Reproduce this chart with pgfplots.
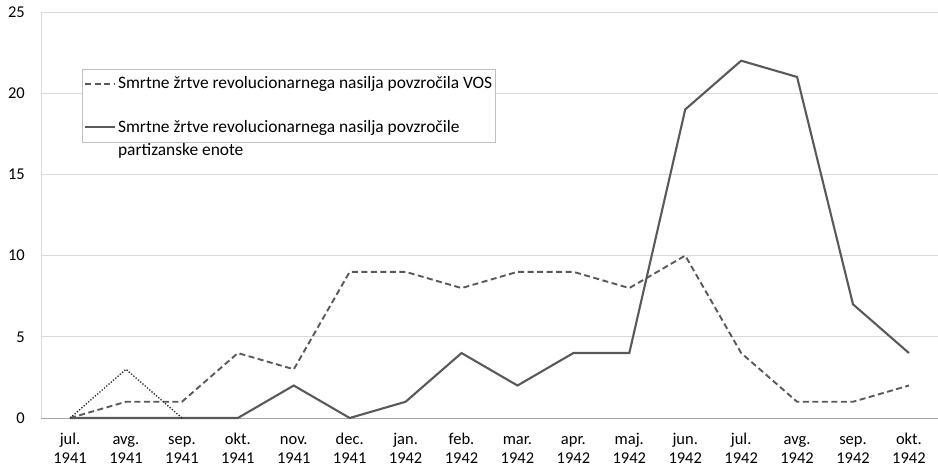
\documentclass[border=0pt]{standalone}
\usepackage{pgfplots}
\pgfplotsset{compat=1.18}
\usepackage{fontspec}
\setmainfont{Carlito}
\definecolor{ln}{HTML}{595959}
\definecolor{grd}{HTML}{D9D9D9}
\definecolor{axl}{HTML}{A6A6A6}
\definecolor{lgb}{HTML}{BFBFBF}
\newcommand{\tl}[2]{\strut #1\\\strut #2}
\begin{document}
\fontsize{15bp}{18bp}\selectfont
\begin{tikzpicture}
\begin{axis}[
  at={(0,0)}, anchor=south west,
  width=897bp, height=406bp, scale only axis,
  xmin=-0.52, xmax=15.52, ymin=0, ymax=25,
  ytick={0,5,...,25},
  xtick={0,...,15},
  xticklabels={{\tl{jul.}{1941}},{\tl{avg.}{1941}},{\tl{sep.}{1941}},{\tl{okt.}{1941}},{\tl{nov.}{1941}},{\tl{dec.}{1941}},{\tl{jan.}{1942}},{\tl{feb.}{1942}},{\tl{mar.}{1942}},{\tl{apr.}{1942}},{\tl{maj.}{1942}},{\tl{jun.}{1942}},{\tl{jul.}{1942}},{\tl{avg.}{1942}},{\tl{sep.}{1942}},{\tl{okt.}{1942}}},
  xticklabel style={align=center, yshift=-7.5bp, font=\fontsize{16.5bp}{19.5bp}\selectfont},
  yticklabel style={xshift=-11bp, font=\fontsize{16.5bp}{19.5bp}\selectfont},
  /pgf/number format/assume math mode=true,
  tick style={draw=none},
  ymajorgrids, grid style={grd, line width=0.8bp},
  axis line style={draw=none},
  axis x line*=bottom,
  clip=false,
  legend style={at={(rel axis cs:0.0457,0.86)}, anchor=north west, draw=lgb, line width=0.9bp, fill=white,
    font=\fontsize{17.4bp}{21bp}\selectfont, row sep=24bp, inner xsep=2bp, inner ysep=6bp,
    nodes={inner sep=1.5bp}},
  legend cell align=left,
  legend image code/.code={\draw[#1] (0bp,0bp) -- (30bp,0bp);},
]
\draw[axl, line width=0.9bp] (rel axis cs:0,0) -- (rel axis cs:1,0);
\draw[grd, line width=0.9bp] (rel axis cs:0,0) -- (rel axis cs:0,1);
\addplot[ln, line width=1.9bp, dash pattern=on 6bp off 3.5bp] coordinates {
(0,0) (1,1) (2,1) (3,4) (4,3) (5,9) (6,9) (7,8) (8,9) (9,9) (10,8) (11,10) (12,4) (13,1) (14,1) (15,2)};
\addlegendentry{Smrtne žrtve revolucionarnega nasilja povzročila VOS}
\addplot[ln, line width=2.1bp] coordinates {
(0,0) (1,0) (2,0) (3,0) (4,2) (5,0) (6,1) (7,4) (8,2) (9,4) (10,4) (11,19) (12,22) (13,21) (14,7) (15,4)};
\addlegendentry{\begin{tabular}[t]{@{}l@{}}Smrtne žrtve revolucionarnega nasilja povzročile\\[1.5bp] partizanske enote\end{tabular}}
\addplot[black!85, line width=1.3bp, dash pattern=on 1.3bp off 1.7bp, forget plot] coordinates {(0,0) (1,3) (2,0)};
\end{axis}
\pgfresetboundingbox
\path[use as bounding box] (-41bp,-51bp) rectangle (897bp,418bp);
\end{tikzpicture}
\end{document}
